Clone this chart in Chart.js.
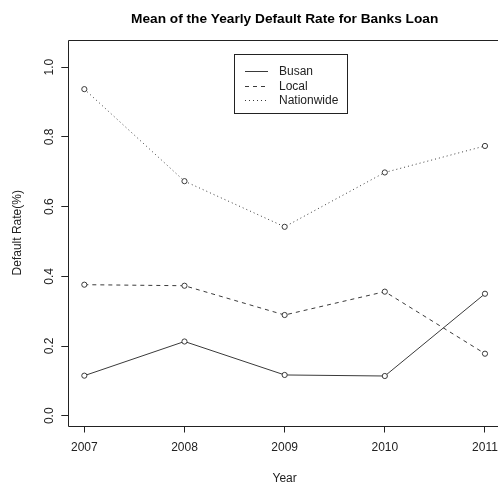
<!DOCTYPE html>
<html>
<head>
<meta charset="utf-8">
<title>Mean of the Yearly Default Rate for Banks Loan</title>
<script src="https://cdn.jsdelivr.net/npm/chart.js@4.4.1/dist/chart.umd.min.js"></script>
<style>
  html, body { margin: 0; padding: 0; background: #fff; overflow: hidden; }
  #wrap { width: 498px; height: 486px; overflow: hidden; position: relative; }
  #rateChart { position: absolute; left: 0; top: 0; }
</style>
</head>
<body>
<div id="wrap"><canvas id="rateChart" width="506" height="486"></canvas></div>
<script>
// data
const years = [2007, 2008, 2009, 2010, 2011];
const busan = [0.115, 0.213, 0.117, 0.114, 0.350];
const local = [0.376, 0.373, 0.289, 0.356, 0.178];
const nationwide = [0.937, 0.673, 0.542, 0.698, 0.774];
const yTicks = [0, 0.2, 0.4, 0.6, 0.8, 1.0];
const xTicks = [2007, 2008, 2009, 2010, 2011];

const INK = '#222';
const LINE = '#3a3a3a';
const FONT = '"Liberation Sans", Arial, sans-serif';

const toPoints = vals => vals.map((v, i) => ({ x: years[i], y: v }));

const lineStyle = (label, vals, dash) => ({
    label: label,
    data: toPoints(vals),
    borderColor: LINE,
    borderWidth: 1,
    borderDash: dash,
    tension: 0,
    pointRadius: 2.6,
    pointBorderWidth: 1,
    pointBorderColor: LINE,
    pointBackgroundColor: '#fff'
});

const segment = (ctx, x1, y1, x2, y2) => {
    ctx.beginPath();
    ctx.moveTo(x1, y1);
    ctx.lineTo(x2, y2);
    ctx.stroke();
};

// plot frame (right side lies outside the window), rotated y labels, legend
const frameAndLegend = {
    id: 'frameAndLegend',
    beforeDatasetsDraw(chart) {
        const { ctx, chartArea: a } = chart;
        ctx.save();
        ctx.strokeStyle = INK;
        ctx.lineWidth = 1;
        const l = Math.round(a.left) + 0.5;
        const t = Math.round(a.top) + 0.5;
        const b = Math.round(a.bottom) + 0.5;
        segment(ctx, l, t, a.right, t);
        segment(ctx, l, b, a.right, b);
        segment(ctx, l, t, l, b);
        ctx.restore();
    },
    afterDraw(chart) {
        const { ctx, scales } = chart;
        ctx.save();
        ctx.fillStyle = INK;
        ctx.font = '12px ' + FONT;
        ctx.textAlign = 'center';
        ctx.textBaseline = 'alphabetic';
        yTicks.forEach(v => {
            const y = scales.y.getPixelForValue(v);
            ctx.save();
            ctx.translate(53, y);
            ctx.rotate(-Math.PI / 2);
            ctx.fillText(v.toFixed(1), 0, 0);
            ctx.restore();
        });

        // legend box
        ctx.strokeStyle = INK;
        ctx.lineWidth = 1;
        ctx.strokeRect(234.5, 54.5, 113, 59);
        ctx.textAlign = 'left';
        ctx.textBaseline = 'middle';
        chart.data.datasets.forEach((ds, i) => {
            const y = Math.round(71 + i * 14.5) + 0.5;
            ctx.strokeStyle = LINE;
            ctx.setLineDash(ds.borderDash || []);
            segment(ctx, 245, y, 268, y);
            ctx.setLineDash([]);
            ctx.fillText(ds.label, 279, y);
        });
        ctx.restore();
    }
};

new Chart(document.getElementById('rateChart'), {
    type: 'line',
    data: {
        datasets: [
            lineStyle('Busan', busan, []),
            lineStyle('Local', local, [4, 4]),
            lineStyle('Nationwide', nationwide, [1, 3])
        ]
    },
    options: {
        responsive: false,
        animation: false,
        devicePixelRatio: 1,
        layout: { padding: { left: 0, right: 3.5, top: 0, bottom: 0 } },
        plugins: {
            legend: { display: false },
            tooltip: { enabled: false },
            title: {
                display: true,
                fullSize: false,
                text: 'Mean of the Yearly Default Rate for Banks Loan',
                color: '#000',
                font: { family: FONT, size: 13.7, weight: 'bold', lineHeight: 1.2 },
                padding: { top: 11.5, bottom: 12.06 }
            }
        },
        scales: {
            x: {
                type: 'linear',
                min: 2006.84,
                max: 2011.16,
                afterBuildTicks: s => { s.ticks = xTicks.map(v => ({ value: v })); },
                afterFit: s => { s.height = 60.5; s.paddingLeft = 0; s.paddingRight = 0; },
                grid: { drawOnChartArea: false, drawTicks: true, tickLength: 7, color: INK },
                border: { display: false },
                ticks: {
                    autoSkip: false,
                    maxRotation: 0,
                    padding: 8,
                    color: INK,
                    font: { family: FONT, size: 12 },
                    callback: v => String(v)
                },
                title: {
                    display: true,
                    text: 'Year',
                    color: INK,
                    font: { family: FONT, size: 12, lineHeight: 1.2 },
                    padding: { top: 0, bottom: 0 }
                }
            },
            y: {
                type: 'linear',
                min: -0.028,
                max: 1.078,
                afterBuildTicks: s => { s.ticks = yTicks.map(v => ({ value: v })); },
                afterFit: s => { s.width = 68.3; s.paddingTop = 0; s.paddingBottom = 0; },
                grid: { drawOnChartArea: false, drawTicks: true, tickLength: 7, color: INK },
                border: { display: false },
                ticks: { display: false },
                title: {
                    display: true,
                    text: 'Default Rate(%)',
                    color: INK,
                    font: { family: FONT, size: 12, lineHeight: 1.2 },
                    padding: { top: 10, bottom: 0 }
                }
            }
        }
    },
    plugins: [frameAndLegend]
});
</script>
</body>
</html>
